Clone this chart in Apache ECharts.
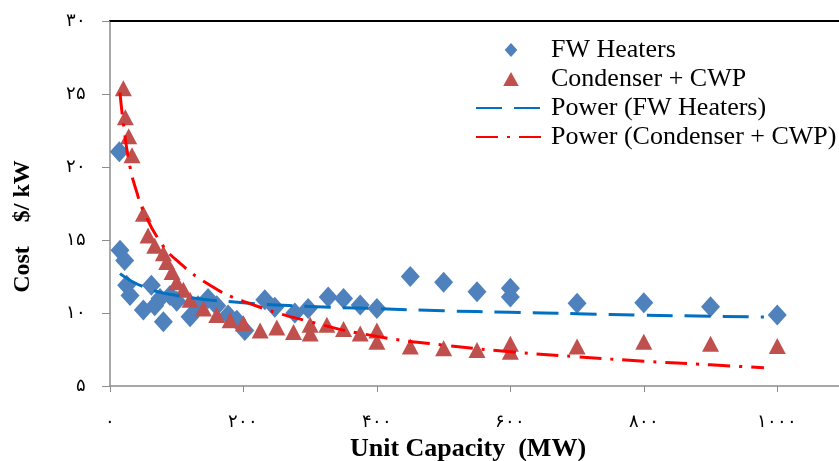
<!DOCTYPE html>
<html>
<head>
<meta charset="utf-8">
<script src="https://cdn.jsdelivr.net/npm/echarts@6/dist/echarts.min.js"></script>
<style>
  html, body { margin: 0; padding: 0; background: #fff; }
  #chart { width: 839px; height: 461px; }
</style>
</head>
<body>
<div id="chart"></div>
<script>
// data
var fwHeaters = [
  [14, 21.05], [15, 14.3], [22, 13.6], [25, 11.9], [30, 11.2], [50, 10.2],
  [62, 11.9], [67, 10.5], [75, 11.0], [80, 9.4], [90, 11.2], [100, 10.8],
  [120, 9.75], [132, 10.5], [147, 11.0], [160, 10.5], [177, 9.86], [190, 9.5],
  [202, 8.8], [232, 10.9], [247, 10.4], [277, 10.0], [297, 10.3], [327, 11.1],
  [350, 11.0], [375, 10.55], [400, 10.3], [450, 12.5], [500, 12.1], [550, 11.45],
  [600, 11.7], [600, 11.1], [700, 10.66], [800, 10.7], [900, 10.43], [1000, 9.86]
];
var condenser = [
  [20, 25.4], [23, 23.4], [28, 22.1], [33, 20.8], [50, 16.8], [57, 15.3],
  [67, 14.6], [80, 14.1], [85, 13.5], [93, 12.8], [100, 12.1], [110, 11.6],
  [120, 10.9], [140, 10.3], [160, 9.86], [180, 9.5], [200, 9.3], [225, 8.8],
  [250, 9.0], [275, 8.7], [300, 9.2], [300, 8.6], [325, 9.2], [350, 8.9],
  [375, 8.6], [400, 8.8], [400, 8.03], [450, 7.7], [500, 7.58], [550, 7.47],
  [600, 7.9], [600, 7.35], [700, 7.7], [800, 8.03], [900, 7.9], [1000, 7.74]
];
// trend lines, points
var powerFw = [
  [15, 12.7], [50, 11.8], [100, 11.2], [200, 10.7], [300, 10.45], [400, 10.3],
  [500, 10.15], [600, 10.05], [700, 9.95], [800, 9.85], [900, 9.78], [980, 9.72]
];
var powerCond = [
  [15, 25.1], [20, 23.0], [30, 20.0], [40, 18.3], [50, 17.0], [75, 14.9],
  [100, 13.6], [150, 11.9], [200, 10.8], [300, 9.4], [400, 8.4], [500, 7.8],
  [600, 7.35], [700, 7.0], [800, 6.7], [900, 6.45], [980, 6.25]
];
var seriesNames = ['FW Heaters', 'Condenser + CWP', 'Power (FW Heaters)', 'Power (Condenser + CWP)'];

function toFa(n) {
  return String(n).replace(/\d/g, function (d) { return '۰۱۲۳۴۵۶۷۸۹'[+d]; });
}

var serif = "'Liberation Serif', 'Times New Roman', serif";
var myChart = echarts.init(document.getElementById('chart'));
option = {
  animation: false,
  backgroundColor: '#fff',
  grid: { left: 110, top: 21, width: 734, height: 365, outerBoundsMode: 'none' },
  legend: {
    orient: 'vertical',
    left: 470,
    top: 32,
    itemWidth: 70,
    itemHeight: 14,
    itemGap: 3,
    data: [
      { name: seriesNames[0], icon: 'path://M0,-1L0.9,0L0,1L-0.9,0Z' },
      { name: seriesNames[1], icon: 'path://M0,-1L1,0.8L-1,0.8Z' },
      { name: seriesNames[2], itemStyle: { opacity: 0 } },
      { name: seriesNames[3], itemStyle: { opacity: 0 } }
    ],
    textStyle: { fontFamily: serif, fontSize: 26, color: '#000', lineHeight: 26 }
  },
  xAxis: [
    {
      type: 'value',
      min: 0,
      max: 1100,
      interval: 200,
      name: 'Unit Capacity  (MW)',
      nameLocation: 'middle',
      nameGap: 46,
      nameTextStyle: { fontFamily: serif, fontSize: 26, fontWeight: 'bold', color: '#000', padding: [0, 18, 0, 0] },
      splitLine: { show: false },
      axisLine: { lineStyle: { color: '#8c8c8c', width: 1.5 } },
      axisTick: { inside: false, length: 6, lineStyle: { color: '#8c8c8c' } },
      axisLabel: {
        margin: 27,
        fontFamily: serif,
        fontSize: 18,
        color: '#000',
        formatter: function (v) { return v > 1000 ? '' : toFa(v); }
      }
    },
    {
      type: 'value',
      position: 'top',
      min: 0,
      max: 1100,
      axisLine: { show: true, lineStyle: { color: '#000', width: 2 } },
      axisTick: { show: false },
      axisLabel: { show: false },
      splitLine: { show: false }
    }
  ],
  yAxis: {
    type: 'value',
    min: 5,
    max: 30,
    interval: 5,
    name: 'Cost    $/ kW',
    nameLocation: 'middle',
    nameGap: 75,
    nameTextStyle: { fontFamily: serif, fontSize: 24, fontWeight: 'bold', color: '#000', padding: [0, 46, 0, 0] },
    splitLine: { show: false },
    axisLine: { show: true, lineStyle: { color: '#8c8c8c', width: 1.5 } },
    axisTick: { show: true, length: 8, lineStyle: { color: '#8c8c8c' } },
    axisLabel: {
      margin: 24,
      fontFamily: serif,
      fontSize: 18,
      color: '#000',
      formatter: function (v) { return toFa(v); }
    }
  },
  series: [
    {
      name: seriesNames[0],
      type: 'scatter',
      symbol: 'diamond',
      symbolSize: [19, 21],
      itemStyle: { color: '#4F81BD', opacity: 1 },
      data: fwHeaters,
      z: 2
    },
    {
      name: seriesNames[1],
      type: 'scatter',
      symbol: 'triangle',
      symbolSize: [17, 16],
      itemStyle: { color: '#C0504D', opacity: 1 },
      data: condenser,
      z: 2
    },
    {
      name: seriesNames[2],
      type: 'line',
      smooth: true,
      symbol: 'none',
      showSymbol: false,
      itemStyle: { color: '#0070C0' },
      lineStyle: { color: '#0070C0', width: 3, type: [26, 12] },
      data: powerFw,
      z: 3
    },
    {
      name: seriesNames[3],
      type: 'line',
      smooth: true,
      symbol: 'none',
      showSymbol: false,
      itemStyle: { color: '#FF0000' },
      lineStyle: { color: '#FF0000', width: 3, type: [22, 9, 3, 9] },
      data: powerCond,
      z: 3
    }
  ]
};

myChart.setOption(option);
</script>
</body>
</html>
